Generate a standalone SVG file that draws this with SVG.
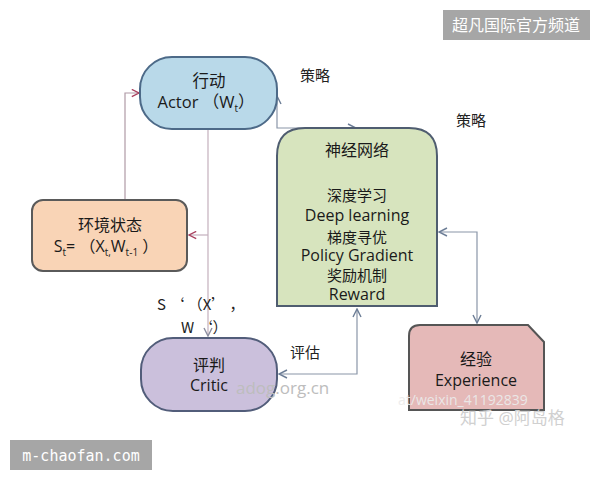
<svg xmlns="http://www.w3.org/2000/svg" width="600" height="480" viewBox="0 0 600 480">
<defs>
<style>
.t{font-family:"Open Sans","Noto Sans CJK SC",sans-serif;font-size:16px;fill:#1a1a1a;text-anchor:middle}
.z{font-size:15px}
.l{font-family:"Noto Sans CJK SC",sans-serif;font-size:15px;fill:#222}
.c{fill:none;stroke-width:1.2}
.wm{font-family:"Open Sans","Noto Sans CJK SC",sans-serif}
</style>
<marker id="aR" viewBox="0 0 10 10" refX="9" refY="5" markerWidth="9" markerHeight="9" markerUnits="userSpaceOnUse" orient="auto"><path d="M1,1 L9,5 L1,9" fill="none" stroke="#a8405e" stroke-width="1.5"/></marker>
<marker id="aB" viewBox="0 0 10 10" refX="9" refY="5" markerWidth="10" markerHeight="10" markerUnits="userSpaceOnUse" orient="auto"><path d="M1,1 L9,5 L1,9" fill="none" stroke="#6c7d96" stroke-width="1.4"/></marker>
<marker id="aBs" viewBox="0 0 10 10" refX="1" refY="5" markerWidth="10" markerHeight="10" markerUnits="userSpaceOnUse" orient="auto"><path d="M9,1 L1,5 L9,9" fill="none" stroke="#6c7d96" stroke-width="1.4"/></marker>
<marker id="aG" viewBox="0 0 10 10" refX="9" refY="5" markerWidth="10" markerHeight="10" markerUnits="userSpaceOnUse" orient="auto"><path d="M1,1 L9,5 L1,9" fill="none" stroke="#8b8ea0" stroke-width="1.4"/></marker>
</defs>
<rect width="600" height="480" fill="#ffffff"/>

<g id="connectors">
<path class="c" d="M125,200 L125,93 L139,93" stroke="#b09aa6" marker-end="url(#aR)"/>
<path class="c" d="M208,129 L208,336" stroke="#c4b0bc" marker-end="url(#aG)"/>
<path class="c" d="M208,235 L189,235" stroke="#c4b0bc" marker-end="url(#aR)"/>
<path class="c" d="M277,96 L277,128 L356,128" stroke="#8a96a8" marker-start="url(#aBs)" marker-end="url(#aB)"/>
<path class="c" d="M357,309 L357,374 L279,374" stroke="#8a96a8" marker-start="url(#aBs)" marker-end="url(#aB)"/>
<path class="c" d="M439,232 L477,232 L477,323" stroke="#8a96a8" marker-start="url(#aBs)" marker-end="url(#aB)"/>
</g>

<g id="actor">
<rect x="140" y="57" width="137" height="72" rx="32" ry="32" fill="#b9d9e9" stroke="#4d6a88" stroke-width="2"/>
<text class="t" x="209" y="87" style="font-size:16.5px">行动</text>
<text class="t" x="206" y="108" style="font-size:16.5px">Actor （W<tspan font-size="10" dy="4">t</tspan><tspan dy="-4">）</tspan></text>
</g>

<g id="env">
<rect x="32" y="200" width="155" height="71" rx="11" ry="11" fill="#f9d4b6" stroke="#5a5a5a" stroke-width="2"/>
<text class="t" x="110" y="231">环境状态</text>
<text class="t" x="106" y="252">S<tspan font-size="10" dy="4">t</tspan><tspan dy="-4">= （X</tspan><tspan font-size="10" dy="4">t,</tspan><tspan dy="-4">W</tspan><tspan font-size="10" dy="4">t-1</tspan><tspan dy="-4"> ）</tspan></text>
</g>

<g id="neural">
<path d="M277,306 L277,156 Q277,128 305,128 L409,128 Q437,128 437,156 L437,306 Z" fill="#d7e4be" stroke="#4f5d70" stroke-width="2"/>
<text class="t" x="357" y="156">神经网络</text>
<text class="t z" x="357" y="201">深度学习</text>
<text class="t" x="357" y="220.5">Deep learning</text>
<text class="t z" x="357" y="243">梯度寻优</text>
<text class="t" x="357" y="261">Policy Gradient</text>
<text class="t z" x="357" y="281">奖励机制</text>
<text class="t" x="357" y="300">Reward</text>
</g>

<g id="critic">
<rect x="141" y="338" width="136" height="73" rx="32" ry="32" fill="#cbc0dc" stroke="#525d7a" stroke-width="2"/>
<text class="t" x="209" y="371">评判</text>
<text class="t" x="209" y="391">Critic</text>
</g>

<g id="experience">
<path d="M409,410 L409,336 Q409,325 420,325 L528,325 L544,342 L544,410 Z" fill="#e5b9b8" stroke="#555" stroke-width="2"/>
<text class="t" x="476" y="365">经验</text>
<text class="t" x="476" y="386">Experience</text>
</g>

<g id="labels">
<text class="l" x="300" y="81">策略</text>
<text class="l" x="456" y="126">策略</text>
<text class="l" x="290" y="358">评估</text>
<text class="l" x="157" y="310">S ‘ （X’  ，</text>
<text class="l" x="181" y="333">W ‘）</text>
</g>

<g id="watermarks">
<text class="wm" x="236" y="394" font-size="17" fill="#bdbdbd">adog.org.cn</text>
<text class="wm" x="398" y="405" font-size="14" fill="#ececec" opacity="0.9">at/weixin_41192839</text>
<text class="wm" x="460" y="424" font-size="17" fill="#d0d0d0">知乎 @阿岛格</text>
<rect x="443" y="10" width="147" height="30" fill="#a6a6a6"/>
<text x="516" y="31" font-family="Noto Sans CJK SC,sans-serif" font-size="16" fill="#ffffff" text-anchor="middle">超凡国际官方频道</text>
<rect x="10" y="440" width="142" height="30" fill="#a6a6a6"/>
<text x="81" y="461" font-family="DejaVu Sans Mono,monospace" font-size="15" fill="#ffffff" text-anchor="middle">m-chaofan.com</text>
</g>
</svg>
